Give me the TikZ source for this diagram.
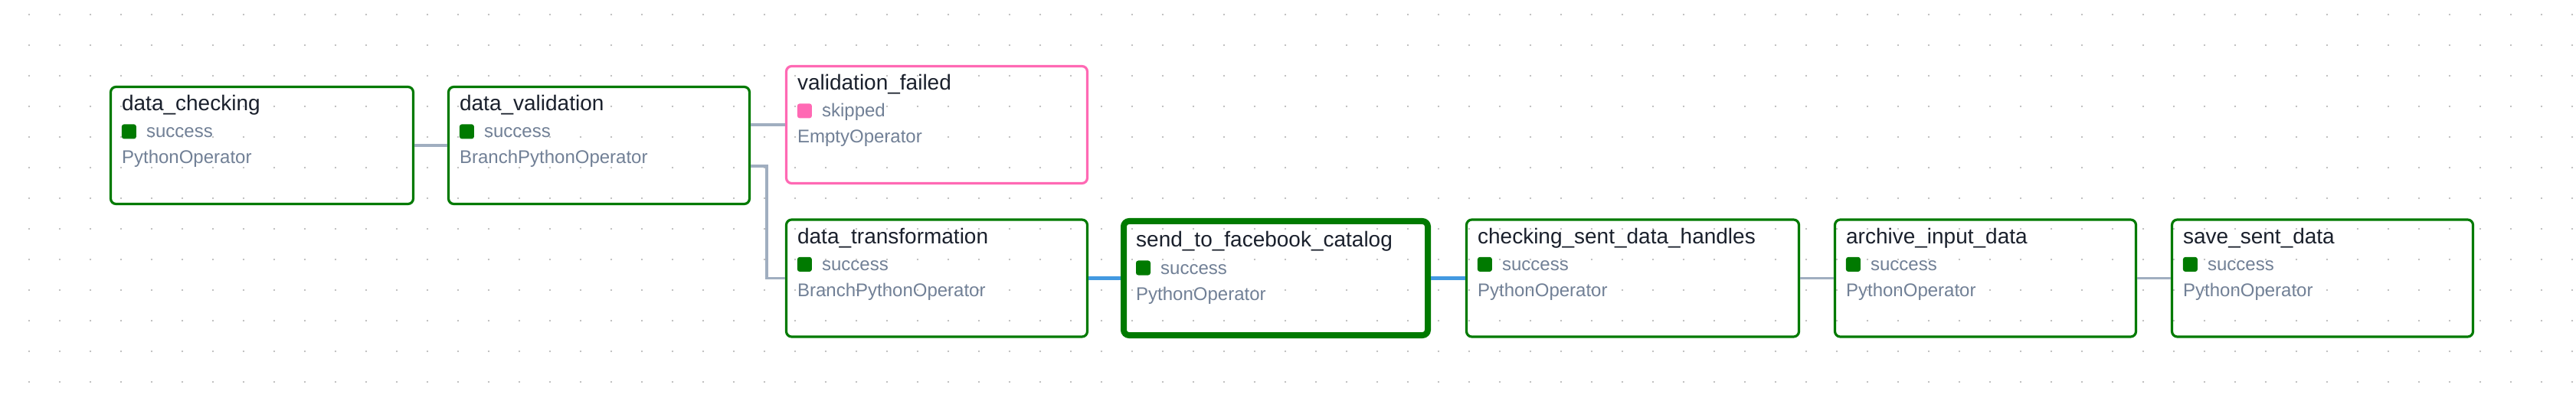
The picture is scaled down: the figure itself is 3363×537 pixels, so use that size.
\documentclass[tikz,border=0pt]{standalone}
\usepackage{fontspec}
\setmainfont{Liberation Sans}
\usetikzlibrary{calc}
\definecolor{okgreen}{HTML}{007A00}
\definecolor{skippink}{HTML}{FF69B4}
\definecolor{titlecol}{HTML}{1A202C}
\definecolor{subcol}{HTML}{718096}
\definecolor{edgegray}{HTML}{A0AEC0}
\definecolor{edgeblue}{HTML}{4299E1}
\definecolor{dotcol}{HTML}{ADADAD}
\tikzset{
 taskbox/.style={draw, rounded corners=7pt, line width=3.2pt, outer sep=1.6pt, inner sep=0pt, minimum height=153pt},
 okbox/.style={taskbox, draw=okgreen},
 skipbox/.style={taskbox, draw=skippink},
 bigbox/.style={taskbox, draw=okgreen, line width=8pt, outer sep=4pt, minimum height=149pt},
 titletext/.style={anchor=base west, inner sep=0pt, text=titlecol, font=\fontsize{28}{32}\selectfont},
 subtext/.style={anchor=base west, inner sep=0pt, text=subcol, font=\fontsize{24}{28}\selectfont},
 statesq/.style={minimum size=19pt, inner sep=0pt, rounded corners=3pt},
 okstate/.style={statesq, fill=okgreen},
 skipstate/.style={statesq, fill=skippink},
 grayedge/.style={draw=edgegray, line width=3.5pt},
 blueedge/.style={draw=edgeblue, line width=5pt},
 griddot/.style={fill=dotcol}
}
\newcommand\taskdx{16}
\newcommand\taskdy{0}
\newcommand\mktask[9]{%
 \node[#5, minimum width=#4] (#1) at (#2,#3) {};
 \node[titletext] (#1-t) at ($(#1.north west)+(\taskdx,\taskdy+33)$) {#6};
 \node[#7] (#1-q) at ($(#1.north west)+(\taskdx+9.5,\taskdy+60)$) {};
 \node[subtext] (#1-s) at ($(#1.north west)+(\taskdx+32,\taskdy+68)$) {#8};
 \node[subtext] (#1-o) at ($(#1.north west)+(\taskdx,\taskdy+102)$) {#9};
}
\begin{document}
\begin{tikzpicture}[x=1pt,y=-1pt]
\fill[white] (0,0) rectangle (3363,537);
\useasboundingbox (0,0) rectangle (3363,537);
\foreach \i in {0,...,83} {\foreach \j in {0,...,12} {\fill[griddot] (38+40*\i,19+40*\j) circle (1.1pt);}}
\mktask{dc}{342}{190}{395}{okbox}{data\_checking}{okstate}{success}{PythonOperator}
\mktask{dv}{782}{190}{393}{okbox}{data\_validation}{okstate}{success}{BranchPythonOperator}
\mktask{vf}{1223}{163}{393}{skipbox}{validation\_failed}{skipstate}{skipped}{EmptyOperator}
\mktask{dt}{1223}{363.5}{393}{okbox}{data\_transformation}{okstate}{success}{BranchPythonOperator}
\renewcommand\taskdx{20}
\renewcommand\taskdy{5}
\mktask{sf}{1665.5}{363.5}{397}{bigbox}{send\_to\_facebook\_catalog}{okstate}{success}{PythonOperator}
\renewcommand\taskdx{16}
\renewcommand\taskdy{0}
\mktask{cs}{2131.5}{363.5}{434}{okbox}{checking\_sent\_data\_handles}{okstate}{success}{PythonOperator}
\mktask{ai}{2592}{363.5}{393}{okbox}{archive\_input\_data}{okstate}{success}{PythonOperator}
\mktask{ss}{3032}{363.5}{393}{okbox}{save\_sent\_data}{okstate}{success}{PythonOperator}
\draw[grayedge] (dc.east) -- (dv.west);
\draw[grayedge] (vf.west -| dv.east) -- (vf.west);
\draw[grayedge] ($(dv.east)+(0,27)$) -- ++(21,0) |- (dt.west);
\draw[blueedge] (dt.east) -- (sf.west);
\draw[blueedge] (sf.east) -- (cs.west);
\draw[grayedge] (cs.east) -- (ai.west);
\draw[grayedge] (ai.east) -- (ss.west);
\end{tikzpicture}
\end{document}
